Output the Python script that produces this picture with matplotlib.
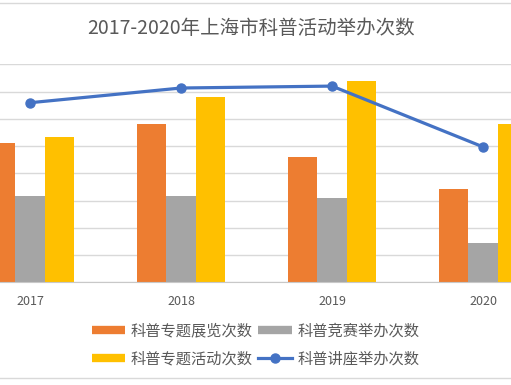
import matplotlib.pyplot as plt
from matplotlib.lines import Line2D
import numpy as np

plt.rcParams['font.family'] = ['Noto Sans CJK SC', 'DejaVu Sans']

# data (one gridline = 100)
years = ['2017', '2018', '2019', '2020']
zhanlan = [513, 580, 460, 341]      # 科普专题展览次数
jingsai = [316, 316, 308, 145]      # 科普竞赛举办次数
huodong = [532, 680, 737, 580]      # 科普专题活动次数
jiangzuo = [659, 713, 720, 497]     # 科普讲座举办次数

c_orange = '#ED7D31'
c_gray = '#A5A5A5'
c_yellow = '#FFC000'
c_blue = '#4472C4'
grid_c = '#D9D9D9'
text_c = '#595959'

fig = plt.figure(figsize=(5.11, 3.85), dpi=100)
# plot area: the original chart is cropped left and right
ax = fig.add_axes([0, 1 - 282.3 / 385, 1, (282.3 - 64.3) / 385])

x = np.arange(len(years))
w = 29.2 / 151
ax.bar(x - w, zhanlan, w, color=c_orange, zorder=2)
ax.bar(x, jingsai, w, color=c_gray, zorder=2)
ax.bar(x + w, huodong, w, color=c_yellow, zorder=2)
ax.plot(x, jiangzuo, color=c_blue, lw=2.3, marker='o', ms=6.5, zorder=3)

ax.set_xlim(-30 / 151, (511 - 30) / 151)
ax.set_ylim(0, 800)
ax.set_yticks(np.arange(0, 801, 100))
ax.yaxis.grid(True, color=grid_c, lw=1)
ax.set_axisbelow(True)
ax.tick_params(axis='y', left=False, labelleft=False)
ax.set_xticks(x)
ax.set_xticklabels(years, fontsize=9, color=text_c)
ax.tick_params(axis='x', length=0, pad=9)
for s in ['top', 'left', 'right']:
    ax.spines[s].set_visible(False)
ax.spines['bottom'].set_color('#C8C8C8')

fig.text(251 / 511, 1 - 29 / 385, '2017-2020年上海市科普活动举办次数',
         ha='center', va='center', fontsize=14, color=text_c)

handles = [
    Line2D([], [], color=c_orange, lw=6, solid_capstyle='butt'),
    Line2D([], [], color=c_yellow, lw=6, solid_capstyle='butt'),
    Line2D([], [], color=c_gray, lw=6, solid_capstyle='butt'),
    Line2D([], [], color=c_blue, lw=2.3, marker='o', ms=6.5),
]
labels = ['科普专题展览次数', '科普专题活动次数', '科普竞赛举办次数', '科普讲座举办次数']
fig.legend(handles, labels, ncol=2, loc='center', bbox_to_anchor=(255.5 / 511, 0.104),
           frameon=False, fontsize=11, labelcolor=text_c, handlelength=2.2,
           handletextpad=0.35, columnspacing=0.35, labelspacing=0.75)

# chart border (cropped)
fig.add_artist(Line2D([0, 1], [1 - 3 / 385, 1 - 3 / 385], color=grid_c, lw=1))
fig.add_artist(Line2D([0, 1], [1 - 378 / 385, 1 - 378 / 385], color=grid_c, lw=1))

fig.savefig('out.png', dpi=100)
